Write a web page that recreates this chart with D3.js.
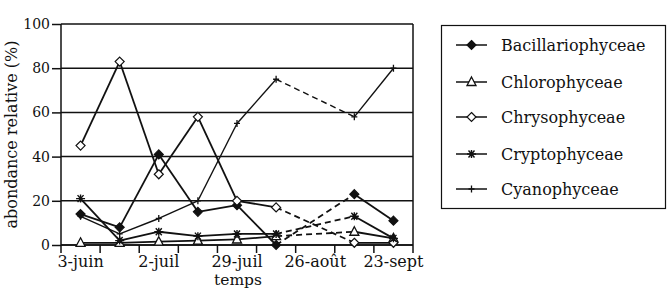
<!DOCTYPE html>
<html><head><meta charset="utf-8">
<script src="https://cdn.jsdelivr.net/npm/d3@7"></script>
<style>html,body{margin:0;padding:0;background:#fff}svg{display:block}text{font-family:"DejaVu Serif",serif;fill:#111}</style>
</head><body><svg id="c" width="667" height="298"></svg>
<script>
const categories = [0,1,2,3,4,5,6,7,8];
const tickLabels = ["3-juin","","2-juil","","29-juil","","26-août","","23-sept"];
const yTicks = [0,20,40,60,80,100];
const seriesNames = ["Bacillariophyceae","Chlorophyceae","Chrysophyceae","Cryptophyceae","Cyanophyceae"];
const bacillariophyceae = [14, 8, 41, 15, 18, 0, null, 23, 11];
const chlorophyceae     = [1, 1, 1.5, 2, 2.5, 4, null, 6, 3];
const chrysophyceae     = [45, 83, 32, 58, 20, 17, null, 1, 1];
const cryptophyceae     = [21, 2, 6, 4, 5, 5, null, 13, 3];
const cyanophyceae      = [13, 5, 12, 20, 55, 75, null, 58, 80];
const markers = ["diamondFilled","triangle","diamondOpen","asterisk","plus"];
const allValues = [bacillariophyceae, chlorophyceae, chrysophyceae, cryptophyceae, cyanophyceae];

const svg = d3.select("#c");
const L=61, R=413, T=24, B=245;
const x = d3.scaleBand().domain(categories).range([L,R]);
const y = d3.scaleLinear().domain([0,100]).range([B,T]);
const cx = i => x(i) + x.bandwidth()/2;

// gridlines
svg.append("g").selectAll("line").data(yTicks).join("line")
  .attr("x1",L).attr("x2",R).attr("y1",d=>y(d)).attr("y2",d=>y(d))
  .attr("stroke","#111").attr("stroke-width",1.5);
// right border
svg.append("line").attr("x1",R).attr("x2",R).attr("y1",T).attr("y2",B+8).attr("stroke","#111").attr("stroke-width",1.5);

// y axis
const ya = svg.append("g").attr("transform",`translate(${L},0)`)
  .call(d3.axisLeft(y).tickValues(yTicks).tickSize(9).tickPadding(2));
ya.select(".domain").remove();
ya.selectAll(".tick line").attr("stroke","#111").attr("stroke-width",1.5);
ya.selectAll(".tick text").style("font-family","DejaVu Serif").style("font-size","14px").attr("fill","#111");
svg.append("line").attr("x1",L).attr("x2",L).attr("y1",T).attr("y2",B+8).attr("stroke","#111").attr("stroke-width",1.5);

// x axis
const xa = svg.append("g").attr("transform",`translate(0,${B})`)
  .call(d3.axisBottom(x).tickFormat(i=>tickLabels[i]).tickSize(0).tickPadding(11));
xa.select(".domain").remove();
xa.selectAll(".tick text").style("font-family","DejaVu Serif").style("font-size","16px").attr("fill","#111");
// tick marks between categories
svg.append("g").selectAll("line").data(categories.slice(1)).join("line")
  .attr("x1",i=>x(i)).attr("x2",i=>x(i)).attr("y1",B).attr("y2",B+8)
  .attr("stroke","#111").attr("stroke-width",1.5);
svg.append("line").attr("x1",L).attr("x2",R).attr("y1",B).attr("y2",B).attr("stroke","#111").attr("stroke-width",1.5);

// titles
svg.append("text").attr("transform",`translate(17,${(T+B)/2}) rotate(-90)`).attr("text-anchor","middle")
  .style("font-size","16px").text("abondance relative (%)");
svg.append("text").attr("x",238).attr("y",285).attr("text-anchor","middle").style("font-size","15.5px").text("temps");

function drawMarker(g, type, px, py){
  const s = 4.5;
  if(type==="diamondFilled"||type==="diamondOpen"){
    g.append("path").attr("d",`M${px},${py-s}L${px+s},${py}L${px},${py+s}L${px-s},${py}Z`)
      .attr("fill",type==="diamondFilled"?"#111":"#fff").attr("stroke","#111").attr("stroke-width",1.2);
  } else if(type==="triangle"){
    g.append("path").attr("d",`M${px},${py-5}L${px+4.5},${py+3.5}L${px-4.5},${py+3.5}Z`)
      .attr("fill","#fff").attr("stroke","#111").attr("stroke-width",1.3);
  } else if(type==="asterisk"){
    const p = d3.path();
    p.moveTo(px-4.5,py); p.lineTo(px+4.5,py);
    p.moveTo(px-3,py-3.5); p.lineTo(px+3,py+3.5);
    p.moveTo(px+3,py-3.5); p.lineTo(px-3,py+3.5);
    p.moveTo(px,py-4); p.lineTo(px,py+4);
    g.append("path").attr("d",p.toString()).attr("stroke","#111").attr("stroke-width",1.4).attr("fill","none");
  } else if(type==="plus"){
    const p = d3.path();
    p.moveTo(px,py-3.5); p.lineTo(px,py+3.5);
    p.moveTo(px-3,py); p.lineTo(px+3,py);
    g.append("path").attr("d",p.toString()).attr("stroke","#111").attr("stroke-width",1.3).attr("fill","none");
  }
}

// series lines
const lineGen = d3.line().x(d=>cx(d.i)).y(d=>y(d.v));
allValues.forEach((vals,k)=>{
  const g = svg.append("g");
  const pts = vals.map((v,i)=>({i,v})).filter(d=>d.v!==null);
  for(let j=0;j<pts.length-1;j++){
    const a=pts[j], b=pts[j+1];
    g.append("path").attr("d",lineGen([a,b])).attr("fill","none").attr("stroke","#111")
      .attr("stroke-width",k===4?1.4:1.8)
      .attr("stroke-dasharray", b.i-a.i>1 ? "6,4" : null);
  }
  pts.forEach(d=>drawMarker(g, markers[k], cx(d.i), y(d.v)));
});

// legend
svg.append("rect").attr("x",441.5).attr("y",25.5).attr("width",224).attr("height",183)
  .attr("fill","#fff").attr("stroke","#111").attr("stroke-width",1.2);
const legY = [45,82,117,154,189];
seriesNames.forEach((n,k)=>{
  const g = svg.append("g");
  g.append("line").attr("x1",456).attr("x2",487).attr("y1",legY[k]).attr("y2",legY[k]).attr("stroke","#111").attr("stroke-width",1.5);
  drawMarker(g, markers[k], 471.5, legY[k]);
  g.append("text").attr("x",501).attr("y",legY[k]+5.5).style("font-size","16px").text(n);
});
</script></body></html>
